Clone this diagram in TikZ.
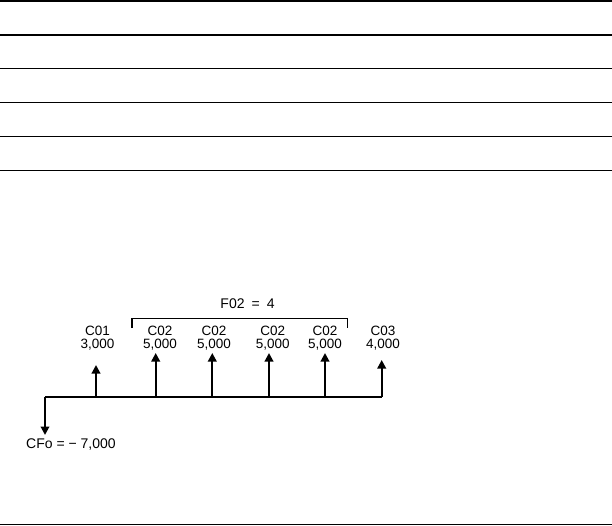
\documentclass[tikz,border=0pt]{standalone}
\usepackage{fontspec}
\setmainfont{Liberation Sans}
\usetikzlibrary{arrows.meta,positioning}

\begin{document}
\begin{tikzpicture}[x=1pt,y=-1pt,
  every node/.style={font=\fontsize{13.5}{12.5}\selectfont,inner sep=0pt,align=center},
  rule/.style={line width=1pt},
  flow/.style={line width=2pt,-{Triangle[length=8.5pt,width=8.5pt]}}]
\useasboundingbox (0,0) rectangle (612,526);
% ruled lines
\draw[rule,line width=2pt] (0,1) -- (612,1);
\draw[rule,line width=2pt] (0,34.7) -- (612,34.7);
\foreach \y in {68.3,102.3,136.3,170.5,524.5}
  \draw[rule] (0,\y) -- (612,\y);
% time line
\coordinate (t0) at (45,397);
\coordinate (t5) at (381.7,397);
\draw[line width=1.3pt] (t0) -- (t5);
\coordinate (h0) at (45,435);
\draw[flow] (t0) -- (h0);
\node[anchor=base,font=\fontsize{14}{14}\selectfont] (cf0) at (71,448) {CFo = − 7,000};
\coordinate (t1) at (96,397);
\coordinate (h1) at (96,365);
\draw[flow] (t1) -- (h1);
\node[anchor=north] (c01) at (97.5,326) {C01\\3,000};
\foreach \n/\x/\lx in {a/155.7/160,b/212.3/214,c/269/272.7,d/325/325}{
  \coordinate (t\n) at (\x,397);
  \coordinate (h\n) at (\x,353);
  \draw[flow] (t\n) -- (h\n);
  \node[anchor=north] (c02\n) at (\lx,326) {C02\\5,000};
}
\coordinate (t5b) at (381.7,397);
\coordinate (h5) at (381.7,360);
\draw[flow] (t5b) -- (h5);
\node[anchor=north] (c03) at (383,326) {C03\\4,000};
% bracket over the C02 group
\coordinate (bl) at (132,328);
\coordinate (br) at (347.7,328);
\draw[line width=1.3pt] (bl) |- (347.7,318.3) -- (br);
\node[anchor=base,font=\fontsize{14}{14}\selectfont] (f02) at (247.5,308.3) {F02\enspace=\enspace4};
\end{tikzpicture}
\end{document}
